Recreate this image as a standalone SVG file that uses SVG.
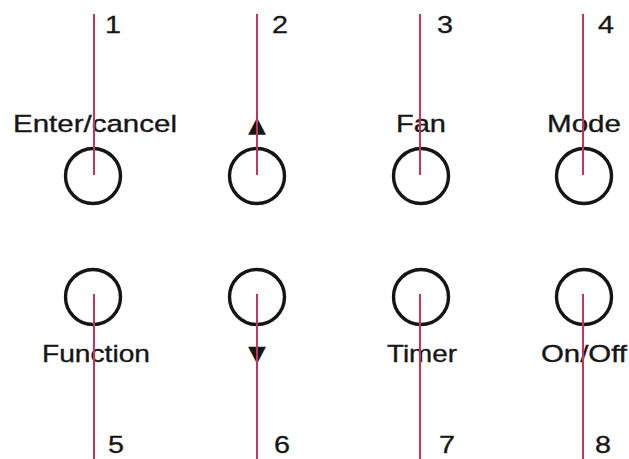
<svg xmlns="http://www.w3.org/2000/svg" width="629" height="459" viewBox="0 0 629 459">
<style>
.btn{fill:none;stroke:#151515;stroke-width:3.4}
.lbl{font-family:"Liberation Sans",Arial,sans-serif;font-size:24.5px;fill:#161616;stroke:#161616;stroke-width:0.35;text-anchor:middle}
.num{font-family:"Liberation Sans",Arial,sans-serif;font-size:24px;fill:#161616;stroke:#161616;stroke-width:0.3}
.sym{font-family:"DejaVu Sans",sans-serif;font-size:22px;fill:#161616;text-anchor:middle}
.wire{stroke:#c2365c;stroke-width:2;fill:none}
</style>
<rect width="629" height="459" fill="#ffffff"/>
<g id="btn1"><circle class="btn" cx="93" cy="176" r="27.5"/><text class="lbl" x="95" y="132" textLength="164" lengthAdjust="spacingAndGlyphs">Enter/cancel</text><text class="num" x="105" y="33" textLength="16" lengthAdjust="spacingAndGlyphs">1</text></g>
<g id="btn2"><circle class="btn" cx="257" cy="176" r="27.5"/><text class="sym" x="257" y="132" textLength="18" lengthAdjust="spacingAndGlyphs">▲</text><text class="num" x="272" y="33" textLength="16" lengthAdjust="spacingAndGlyphs">2</text></g>
<g id="btn3"><circle class="btn" cx="421" cy="176" r="27.5"/><text class="lbl" x="421" y="132" textLength="50" lengthAdjust="spacingAndGlyphs">Fan</text><text class="num" x="437" y="33" textLength="16" lengthAdjust="spacingAndGlyphs">3</text></g>
<g id="btn4"><circle class="btn" cx="584" cy="176" r="27.5"/><text class="lbl" x="584" y="132" textLength="74" lengthAdjust="spacingAndGlyphs">Mode</text><text class="num" x="598" y="33" textLength="16" lengthAdjust="spacingAndGlyphs">4</text></g>
<g id="btn5"><circle class="btn" cx="93" cy="297" r="27.5"/><text class="lbl" x="96" y="362" textLength="108" lengthAdjust="spacingAndGlyphs">Function</text><text class="num" x="108" y="453" textLength="16" lengthAdjust="spacingAndGlyphs">5</text></g>
<g id="btn6"><circle class="btn" cx="257" cy="297" r="27.5"/><text class="sym" x="257" y="361" textLength="18" lengthAdjust="spacingAndGlyphs">▼</text><text class="num" x="274" y="453" textLength="16" lengthAdjust="spacingAndGlyphs">6</text></g>
<g id="btn7"><circle class="btn" cx="421" cy="297" r="27.5"/><text class="lbl" x="422" y="362" textLength="70" lengthAdjust="spacingAndGlyphs">Timer</text><text class="num" x="439" y="453" textLength="16" lengthAdjust="spacingAndGlyphs">7</text></g>
<g id="btn8"><circle class="btn" cx="584" cy="297" r="27.5"/><text class="lbl" x="584" y="362" textLength="86" lengthAdjust="spacingAndGlyphs">On/Off</text><text class="num" x="595" y="453" textLength="16" lengthAdjust="spacingAndGlyphs">8</text></g>
<g id="connectors">
<line class="wire" x1="94" y1="14" x2="94" y2="175"/>
<line class="wire" x1="257" y1="14" x2="257" y2="175"/>
<line class="wire" x1="420" y1="14" x2="420" y2="175"/>
<line class="wire" x1="583" y1="14" x2="583" y2="175"/>
<line class="wire" x1="94" y1="294" x2="94" y2="459"/>
<line class="wire" x1="257" y1="294" x2="257" y2="459"/>
<line class="wire" x1="420" y1="294" x2="420" y2="459"/>
<line class="wire" x1="583" y1="294" x2="583" y2="459"/>
</g>
</svg>
